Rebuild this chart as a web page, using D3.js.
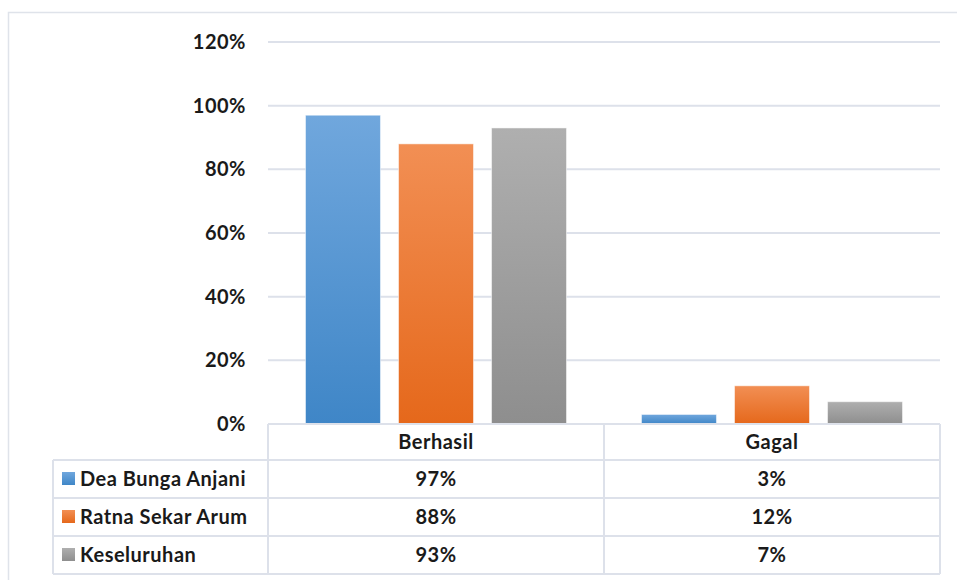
<!DOCTYPE html>
<html>
<head>
<meta charset="utf-8">
<script src="https://cdn.jsdelivr.net/npm/d3@7"></script>
<style>
  body { margin: 0; background: #fff; }
  text { font-family: Lato, "Open Sans", sans-serif; font-weight: bold; fill: #1a1a1a; letter-spacing: 0.5px; }
</style>
</head>
<body>
<div id="chart"></div>
<script>
// data
var categories = ["Berhasil", "Gagal"];
var seriesNames = ["Dea Bunga Anjani", "Ratna Sekar Arum", "Keseluruhan"];
var deaValues = [97, 3];
var ratnaValues = [88, 12];
var totalValues = [93, 7];
var yTicks = [0, 20, 40, 60, 80, 100, 120];

var seriesValues = [deaValues, ratnaValues, totalValues];
var colors = [
  {top: "#70a7dd", bottom: "#3f86c7"},
  {top: "#f28f54", bottom: "#e5681b"},
  {top: "#afafaf", bottom: "#8e8e8e"}
];

var width = 957, height = 580;
var plotLeft = 268, plotRight = 940, plotTop = 42, plotBottom = 424;
var rowH = 38, headerH = 36, labelLeft = 53;
var gridColor = "#dde1ea";
var fontSize = "20px";

var svg = d3.select("#chart").append("svg")
    .attr("width", width)
    .attr("height", height);

// gradients
var defs = svg.append("defs");
colors.forEach(function(c, i) {
  var g = defs.append("linearGradient")
      .attr("id", "grad" + i)
      .attr("x1", 0).attr("y1", 0).attr("x2", 0).attr("y2", 1);
  g.append("stop").attr("offset", "0%").attr("stop-color", c.top);
  g.append("stop").attr("offset", "100%").attr("stop-color", c.bottom);
});

// outer frame
svg.append("rect")
    .attr("x", 8.5).attr("y", 12.5)
    .attr("width", 1000).attr("height", 1000)
    .attr("fill", "none")
    .attr("stroke", "#dfe3ea")
    .attr("stroke-width", 1.5);

// scales
var y = d3.scaleLinear().domain([0, 120]).range([plotBottom, plotTop]);
var x0 = d3.scaleBand().domain(categories).range([plotLeft, plotRight]).paddingInner(0).paddingOuter(0);
var x1 = d3.scaleBand().domain(d3.range(seriesNames.length))
    .range([0, x0.bandwidth()]).paddingInner(0.194).paddingOuter(0.403);

// gridlines
svg.append("g").selectAll("line")
  .data(yTicks.filter(function(d) { return d > 0; }))
  .enter().append("line")
    .attr("x1", plotLeft).attr("x2", plotRight)
    .attr("y1", function(d) { return y(d); })
    .attr("y2", function(d) { return y(d); })
    .attr("stroke", gridColor)
    .attr("stroke-width", 2);

// y labels
svg.append("g").selectAll("text")
  .data(yTicks)
  .enter().append("text")
    .attr("x", 246)
    .attr("y", function(d) { return y(d); })
    .attr("dy", "0.35em")
    .attr("text-anchor", "end")
    .style("font-size", fontSize)
    .text(function(d) { return d + "%"; });

// bars
seriesValues.forEach(function(vals, si) {
  svg.append("g").selectAll("rect")
    .data(vals)
    .enter().append("rect")
      .attr("x", function(d, i) { return x0(categories[i]) + x1(si); })
      .attr("y", function(d) { return y(d); })
      .attr("width", x1.bandwidth())
      .attr("height", function(d) { return y(0) - y(d); })
      .attr("fill", "url(#grad" + si + ")")
      .attr("stroke", "rgba(255,255,255,0.5)")
      .attr("stroke-width", 1);
});

// data table
var tbl = svg.append("g");
var tableBottom = plotBottom + headerH + rowH * seriesNames.length;

// horizontal lines
var hLines = [plotBottom, plotBottom + headerH];
seriesNames.forEach(function(s, i) { hLines.push(plotBottom + headerH + rowH * (i + 1)); });
tbl.selectAll("line.h")
  .data(hLines)
  .enter().append("line")
    .attr("class", "h")
    .attr("x1", function(d, i) { return i < 1 ? plotLeft : labelLeft; })
    .attr("x2", plotRight)
    .attr("y1", function(d) { return d; })
    .attr("y2", function(d) { return d; })
    .attr("stroke", gridColor)
    .attr("stroke-width", 2);

// vertical lines
tbl.append("line")
    .attr("x1", labelLeft).attr("x2", labelLeft)
    .attr("y1", plotBottom + headerH).attr("y2", tableBottom)
    .attr("stroke", gridColor).attr("stroke-width", 2);
[plotLeft, x0("Gagal"), plotRight].forEach(function(xv) {
  tbl.append("line")
      .attr("x1", xv).attr("x2", xv)
      .attr("y1", plotBottom).attr("y2", tableBottom)
      .attr("stroke", gridColor).attr("stroke-width", 2);
});

// header
tbl.selectAll("text.cat")
  .data(categories)
  .enter().append("text")
    .attr("class", "cat")
    .attr("x", function(d) { return x0(d) + x0.bandwidth() / 2; })
    .attr("y", plotBottom + headerH / 2)
    .attr("dy", "0.35em")
    .attr("text-anchor", "middle")
    .style("font-size", fontSize)
    .text(function(d) { return d; });

// rows
seriesNames.forEach(function(name, si) {
  var cy = plotBottom + headerH + rowH * si + rowH / 2;
  tbl.append("rect")
      .attr("x", 62).attr("y", cy - 7)
      .attr("width", 13).attr("height", 13)
      .attr("fill", "url(#grad" + si + ")");
  tbl.append("text")
      .attr("x", 80).attr("y", cy)
      .attr("dy", "0.35em")
      .style("font-size", fontSize)
      .text(name);
  seriesValues[si].forEach(function(v, ci) {
    tbl.append("text")
        .attr("x", x0(categories[ci]) + x0.bandwidth() / 2)
        .attr("y", cy)
        .attr("dy", "0.35em")
        .attr("text-anchor", "middle")
        .style("font-size", fontSize)
        .text(v + "%");
  });
});
</script>
</body>
</html>
